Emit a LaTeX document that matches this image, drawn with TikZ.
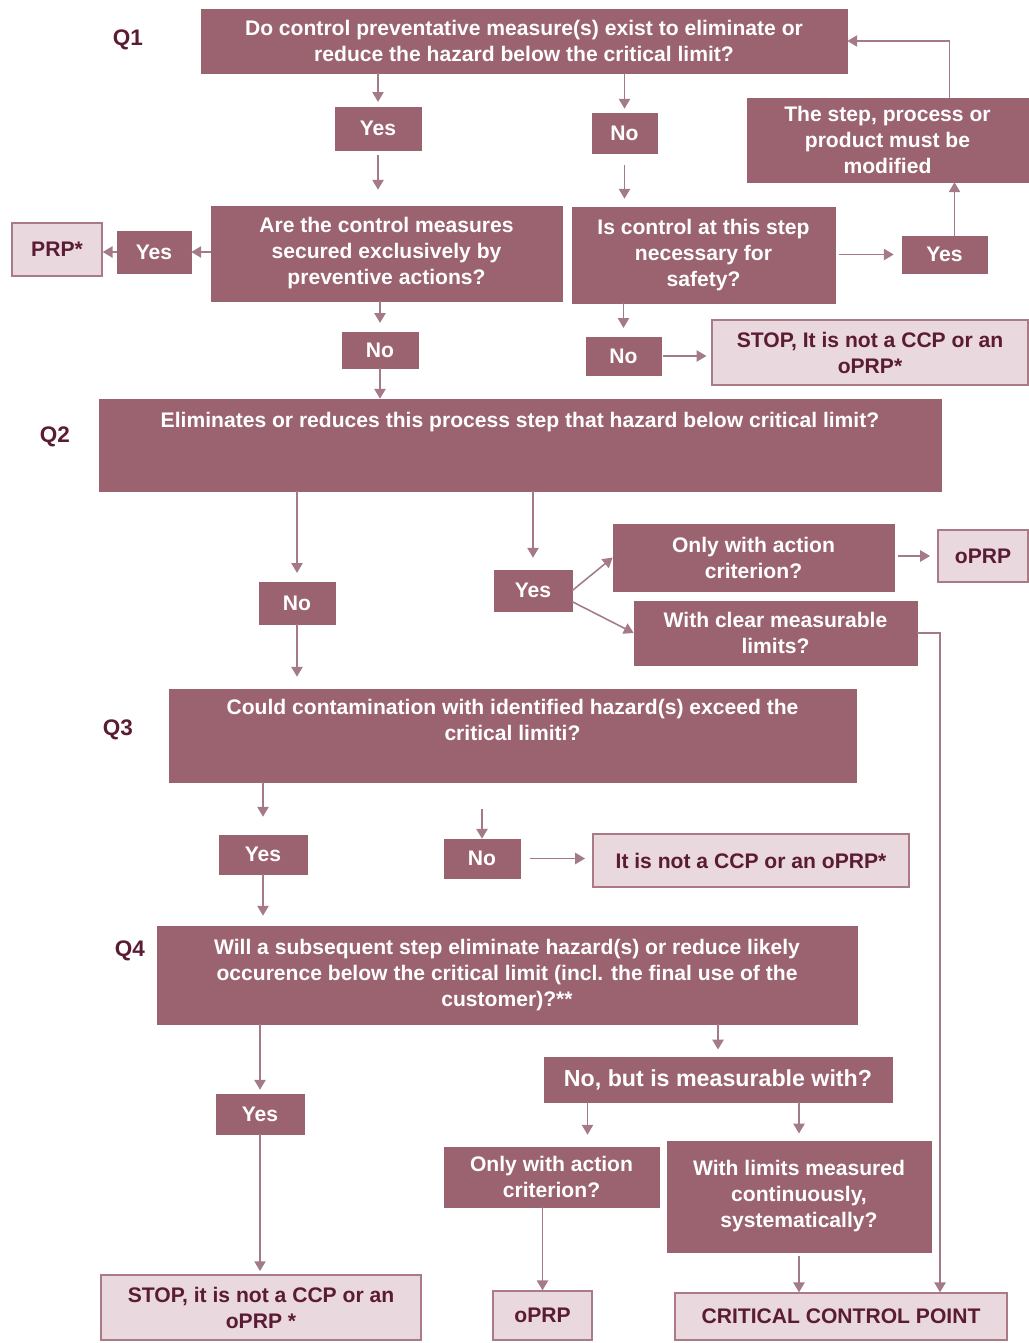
\documentclass[tikz,border=0pt]{standalone}
\usepackage{fontspec}
\setmainfont{Liberation Sans}
\usepackage{tikz}
\usepackage{xcolor}
\usetikzlibrary{arrows.meta}

\definecolor{boxfill}{HTML}{9B6270}
\definecolor{lightfill}{HTML}{E9D8DE}
\definecolor{darktext}{HTML}{5A1B33}
\definecolor{linecol}{HTML}{A57A88}
\newcommand{\boxfont}{\fontsize{15}{18.5}\selectfont\bfseries}
\newcommand{\qfont}{\fontsize{16}{19}\selectfont\bfseries}

\tikzset{
  topbox/.style={rectangle, fill=boxfill, draw=boxfill, text=white, font=\boxfont, inner sep=0pt},
  darkbox/.style={topbox, align=center},
  lightbox/.style={rectangle, fill=lightfill, draw=boxfill!85, line width=1pt, text=darktext, font=\boxfont, align=center, inner sep=0pt},
  qlabel/.style={text=darktext, font=\qfont},
  flow/.style={->, draw=linecol, line width=1.1pt}
}

\begin{document}
\begin{tikzpicture}[x=0.025cm, y=-0.025cm, >={Triangle[length=7pt,width=8pt]}]
        \useasboundingbox (0,0) rectangle (1028,1343);
        % question labels
        \node[qlabel] (lq1) at (128,40) {Q1};
        \node[qlabel] (lq2) at (55,437) {Q2};
        \node[qlabel] (lq3) at (118,730) {Q3};
        \node[qlabel] (lq4) at (130,951) {Q4};
        % Q1
        \node[darkbox, minimum width=16.15cm, minimum height=1.6cm] (q1) at (524,41)
            {Do control preventative measure(s) exist to eliminate or\\reduce the hazard below the critical limit?};
        \node[darkbox, minimum width=2.15cm, minimum height=1.075cm] (yesA) at (378,128.5) {Yes};
        \node[darkbox, minimum width=1.625cm, minimum height=1cm] (noA) at (624.5,133) {No};
        \node[darkbox, minimum width=7.025cm, minimum height=2.1cm] (modify) at (887.5,140)
            {The step, process or\\product must be\\modified};
        \node[darkbox, minimum width=8.775cm, minimum height=2.375cm] (q1a) at (386.5,253.5)
            {Are the control measures\\secured exclusively by\\preventive actions?};
        \node[darkbox, minimum width=6.575cm, minimum height=2.4cm] (q1b) at (703.5,255)
            {Is control at this step\\necessary for\\safety?};
        \node[lightbox, minimum width=2.25cm, minimum height=1.325cm] (prp) at (57,249.5) {PRP*};
        \node[darkbox, minimum width=1.85cm, minimum height=1.05cm] (yesB) at (154,252) {Yes};
        \node[darkbox, minimum width=2.125cm, minimum height=0.925cm] (yesC) at (944.5,254.5) {Yes};
        \node[darkbox, minimum width=1.9cm, minimum height=0.9cm] (noB) at (380,350) {No};
        \node[darkbox, minimum width=1.875cm, minimum height=0.95cm] (noC) at (623.5,356) {No};
        \node[lightbox, minimum width=7.9cm, minimum height=1.625cm] (stopA) at (870,352.5)
            {STOP, It is not a CCP or an\\oPRP*};
        % Q2
        \node[topbox] (q2) at (520,445)
            {\parbox[c][2.3cm][t]{21.05cm}{\centering\vspace*{0.32cm}Eliminates or reduces this process step that hazard below critical limit?}};
        \node[darkbox, minimum width=1.9cm, minimum height=1.05cm] (noD) at (297,603) {No};
        \node[darkbox, minimum width=1.95cm, minimum height=1.025cm] (yesD) at (533,590.5) {Yes};
        \node[darkbox, minimum width=7.025cm, minimum height=1.675cm] (onlyA) at (753.5,557.5)
            {Only with action\\criterion?};
        \node[lightbox, minimum width=2.25cm, minimum height=1.3cm] (oprpA) at (983,556) {oPRP};
        \node[darkbox, minimum width=7.075cm, minimum height=1.6cm] (clearA) at (775.5,633)
            {With clear measurable\\limits?};
        % Q3
        \node[topbox] (q3) at (512.5,735.5)
            {\parbox[c][2.325cm][t]{17.175cm}{\centering\vspace*{0.25cm}Could contamination with identified hazard(s) exceed the\\critical limiti?}};
        \node[darkbox, minimum width=2.2cm, minimum height=0.975cm] (yesE) at (263,854.5) {Yes};
        \node[darkbox, minimum width=1.9cm, minimum height=0.975cm] (noE) at (482,858.5) {No};
        \node[lightbox, minimum width=7.9cm, minimum height=1.325cm] (notA) at (751,860.5)
            {It is not a CCP or an oPRP*};
        % Q4
        \node[darkbox, minimum width=17.5cm, minimum height=2.45cm] (q4) at (507,975)
            {Will a subsequent step eliminate hazard(s) or reduce likely\\occurence below the critical limit (incl. the final use of the\\customer)?**};
        \node[darkbox, minimum width=2.2cm, minimum height=1cm] (yesF) at (260,1114) {Yes};
        \node[darkbox, minimum width=8.7cm, minimum height=1.125cm, font=\fontsize{16.5}{19}\selectfont\bfseries] (nobut) at (718,1079.5)
            {No, but is measurable with?};
        \node[darkbox, minimum width=5.375cm, minimum height=1.5cm] (onlyB) at (551.5,1177)
            {Only with action\\criterion?};
        \node[darkbox, minimum width=6.6cm, minimum height=2.775cm] (limits) at (799,1196.5)
            {With limits measured\\continuously,\\systematically?};
        \node[lightbox, minimum width=8cm, minimum height=1.625cm] (stopB) at (261,1307.5)
            {STOP, it is not a CCP or an\\oPRP *};
        \node[lightbox, minimum width=2.475cm, minimum height=1.225cm] (oprpB) at (542.5,1315.5) {oPRP};
        \node[lightbox, minimum width=8.3cm, minimum height=1.175cm] (ccp) at (841,1316.5)
            {CRITICAL CONTROL POINT};

        % connectors, Q1
        \draw[flow, shorten >=0.12cm] (yesA |- q1.south) -- (yesA.north);
        \draw[flow, shorten <=0.12cm, shorten >=0.4cm] (yesA.south) -- (yesA |- q1a.north);
        \draw[flow, shorten >=0.1cm] (noA |- q1.south) -- (noA.north);
        \draw[flow, shorten <=0.3cm, shorten >=0.2cm] (noA.south) -- (noA |- q1b.north);
        \draw[flow] (q1a.west |- yesB) -- (yesB.east);
        \draw[flow] (yesB.west) -- (prp.east |- yesB.west);
        \draw[flow, shorten >=0.22cm] (noB |- q1a.south) -- (noB.north);
        \draw[flow] (noB.south) -- (noB |- q2.north);
        \draw[flow, shorten <=0.08cm, shorten >=0.2cm] (q1b.east |- yesC) -- (yesC.west);
        \draw[flow] ([xshift=0.25cm]yesC.north) -- ([xshift=0.25cm]yesC.north |- modify.south);
        \draw[flow] ([xshift=1.55cm]modify.north) |- (q1.east);
        \draw[flow, shorten >=0.22cm] (noC |- q1b.south) -- (noC.north);
        \draw[flow, shorten <=0.05cm, shorten >=0.12cm] (noC.east) -- (noC.east -| stopA.west);
        % connectors, Q2
        \draw[flow, shorten >=0.22cm] (noD |- q2.south) -- (noD.north);
        \draw[flow, shorten >=0.3cm] (noD.south) -- (noD |- q3.north);
        \draw[flow, shorten >=0.3cm] (yesD |- q2.south) -- (yesD.north);
        \draw[flow] (yesD.east) -- (onlyA.west);
        \draw[flow] ([yshift=-0.28cm]yesD.east) -- (clearA.west);
        \draw[flow, shorten <=0.08cm, shorten >=0.18cm] (onlyA.east |- oprpA) -- (oprpA.west);
        \draw[flow] (clearA.east) -| ([xshift=2.475cm]ccp.north);
        % connectors, Q3
        \draw[flow, shorten >=0.45cm] (yesE |- q3.south) -- (yesE.north);
        \draw[flow, shorten >=0.25cm] (yesE.south) -- (yesE |- q4.north);
        \coordinate (noEin) at (482,809);
        \draw[flow] (noEin) -- (noE.north);
        \draw[flow, shorten <=0.25cm, shorten >=0.18cm] (noE.east) -- (noE.east -| notA.west);
        % connectors, Q4
        \draw[flow, shorten >=0.1cm] (yesF |- q4.south) -- (yesF.north);
        \draw[flow, shorten >=0.08cm] (yesF.south) -- (yesF |- stopB.north);
        \draw[flow, shorten >=0.18cm] (nobut |- q4.south) -- (nobut.north);
        \draw[flow, shorten >=0.3cm] ([xshift=0.9cm]onlyB.north |- nobut.south) -- ([xshift=0.9cm]onlyB.north);
        \draw[flow, shorten >=0.18cm] (limits |- nobut.south) -- (limits.north);
        \draw[flow] (oprpB |- onlyB.south) -- (oprpB.north);
        \draw[flow, shorten <=0.1cm] (limits.south) -- (limits.south |- ccp.north);
\end{tikzpicture}
\end{document}
